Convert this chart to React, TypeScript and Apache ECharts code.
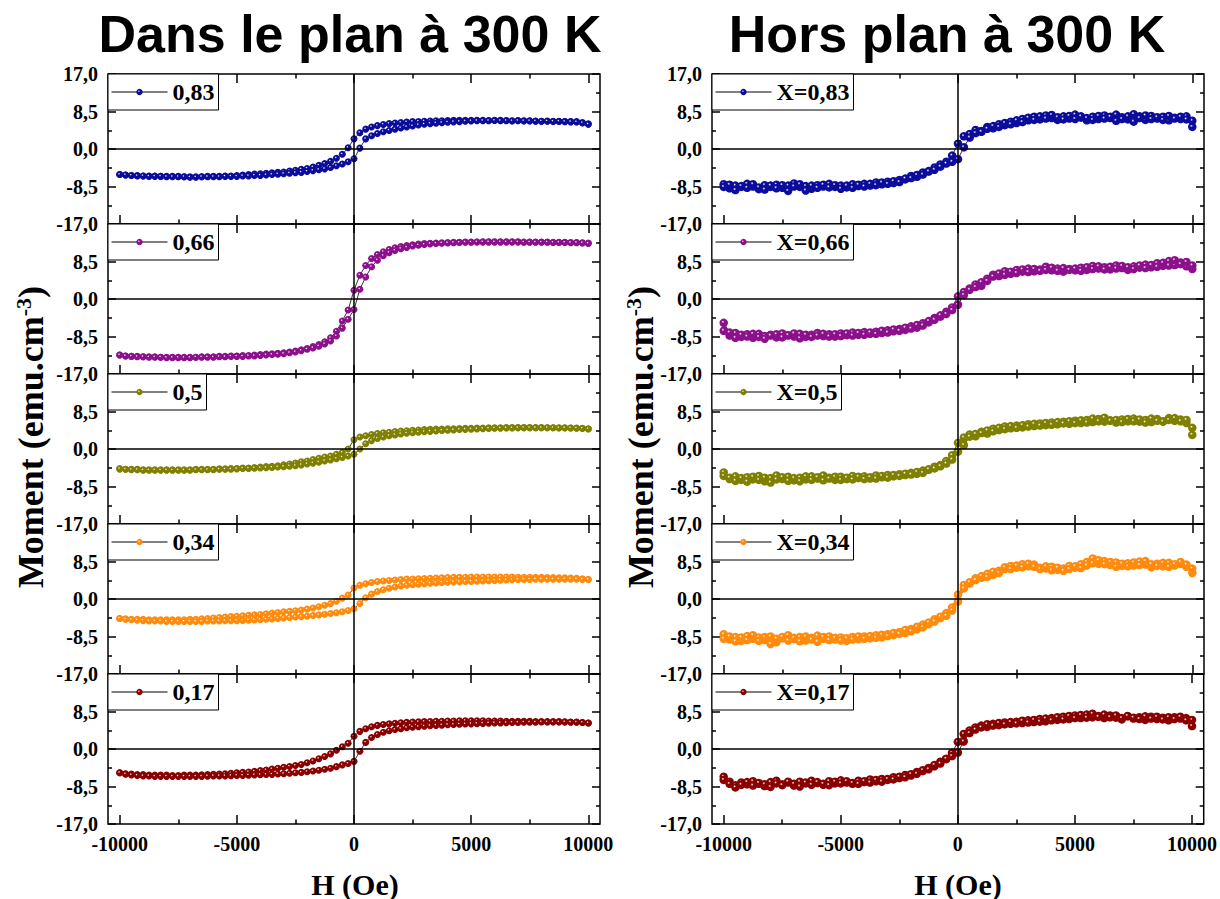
import React, { useEffect, useRef } from "react";
import * as echarts from "echarts";

// Applied field H (Oe), one value per measured point
const H_FIELD = [
  -10000, -9750, -9500, -9250, -9000, -8750, -8500, -8250, -8000, -7750,
  -7500, -7250, -7000, -6750, -6500, -6250, -6000, -5750, -5500, -5250,
  -5000, -4750, -4500, -4250, -4000, -3750, -3500, -3250, -3000, -2750,
  -2500, -2250, -2000, -1750, -1500, -1250, -1000, -750, -500, -250,
  0, 250, 500, 750, 1000, 1250, 1500, 1750, 2000, 2250,
  2500, 2750, 3000, 3250, 3500, 3750, 4000, 4250, 4500, 4750,
  5000, 5250, 5500, 5750, 6000, 6250, 6500, 6750, 7000, 7250,
  7500, 7750, 8000, 8250, 8500, 8750, 9000, 9250, 9500, 9750,
  10000,
];

const X_MAJOR_TICKS = [-10000, -5000, 0, 5000, 10000];
const X_MINOR_TICKS = [-7500, -2500, 2500, 7500];
const Y_TICK_STEP = 8.5;
const Y_MIN = -17;
const Y_MAX = 17;

const LEFT_NAMES = ["0,83", "0,66", "0,5", "0,34", "0,17"];
const RIGHT_NAMES = ["X=0,83", "X=0,66", "X=0,5", "X=0,34", "X=0,17"];
const SERIES_COLORS = ["#0c0c9c", "#8c0f8c", "#7f7f00", "#ff8a0c", "#8a0000"];

// ---------- Dans le plan (in-plane) : branch with decreasing field (DOWN) and increasing field (UP), listed in H_FIELD order
const IP_083_DOWN = [
  -5.8, -5.9, -6.0, -6.0, -6.1, -6.1, -6.1, -6.2, -6.2, -6.2,
  -6.2, -6.3, -6.3, -6.3, -6.3, -6.2, -6.2, -6.2, -6.1, -6.1,
  -6.0, -5.9, -5.8, -5.7, -5.6, -5.5, -5.4, -5.3, -5.2, -5.0,
  -4.8, -4.6, -4.4, -4.1, -3.7, -3.3, -2.8, -2.1, -1.2, 0.3,
  2.3, 3.7, 4.5, 5.0, 5.3, 5.55, 5.75, 5.9, 6.0, 6.1,
  6.2, 6.25, 6.3, 6.35, 6.4, 6.4, 6.45, 6.5, 6.5, 6.5,
  6.5, 6.5, 6.5, 6.45, 6.5, 6.5, 6.45, 6.4, 6.45, 6.4,
  6.4, 6.35, 6.3, 6.35, 6.3, 6.3, 6.25, 6.2, 6.2, 6.0,
  5.7,
];
const IP_083_UP = [
  -5.8, -5.9, -6.0, -6.1, -6.1, -6.2, -6.2, -6.2, -6.3, -6.3,
  -6.3, -6.3, -6.4, -6.4, -6.3, -6.3, -6.3, -6.3, -6.2, -6.2,
  -6.2, -6.1, -6.1, -6.0, -6.0, -5.9, -5.8, -5.7, -5.6, -5.5,
  -5.4, -5.3, -5.1, -4.9, -4.7, -4.5, -4.2, -3.8, -3.4, -2.9,
  -2.2, 0.2, 2.3, 3.0, 3.5, 3.9, 4.2, 4.5, 4.75, 5.0,
  5.2, 5.45, 5.6, 5.75, 5.85, 5.95, 6.05, 6.15, 6.2, 6.3,
  6.35, 6.4, 6.4, 6.4, 6.45, 6.4, 6.4, 6.35, 6.4, 6.35,
  6.35, 6.3, 6.3, 6.3, 6.25, 6.25, 6.2, 6.15, 6.1, 5.9,
  5.6,
];
const IP_066_DOWN = [
  -12.7, -12.9, -13.0, -13.0, -13.1, -13.1, -13.1, -13.2, -13.2, -13.2,
  -13.2, -13.2, -13.2, -13.2, -13.1, -13.1, -13.1, -13.0, -13.0, -12.9,
  -12.9, -12.8, -12.8, -12.7, -12.6, -12.5, -12.4, -12.3, -12.2, -12.0,
  -11.8, -11.5, -11.2, -10.8, -10.3, -9.7, -8.8, -7.3, -5.0, -2.5,
  2.0, 5.4, 7.6, 9.2, 10.1, 10.7, 11.2, 11.6, 11.9, 12.1,
  12.3, 12.45, 12.55, 12.65, 12.7, 12.75, 12.8, 12.85, 12.85, 12.9,
  12.9, 12.9, 12.95, 12.95, 12.95, 12.95, 12.95, 12.95, 12.95, 12.9,
  12.9, 12.9, 12.9, 12.9, 12.85, 12.85, 12.85, 12.8, 12.8, 12.75,
  12.7,
];
const IP_066_UP = [
  -12.7, -12.9, -13.0, -13.1, -13.1, -13.2, -13.2, -13.2, -13.3, -13.3,
  -13.3, -13.3, -13.3, -13.2, -13.2, -13.2, -13.2, -13.1, -13.1, -13.0,
  -13.0, -13.0, -12.9, -12.9, -12.8, -12.7, -12.6, -12.5, -12.4, -12.2,
  -12.0, -11.7, -11.4, -11.1, -10.7, -10.2, -9.5, -8.4, -6.6, -4.6,
  -2.4, 2.2, 5.0, 7.3, 8.8, 9.8, 10.5, 11.0, 11.4, 11.7,
  12.0, 12.2, 12.35, 12.5, 12.6, 12.65, 12.7, 12.75, 12.8, 12.85,
  12.85, 12.9, 12.9, 12.9, 12.9, 12.9, 12.9, 12.9, 12.9, 12.85,
  12.85, 12.85, 12.85, 12.85, 12.8, 12.8, 12.8, 12.75, 12.75, 12.7,
  12.6,
];
const IP_050_DOWN = [
  -4.5, -4.6, -4.6, -4.6, -4.7, -4.7, -4.7, -4.7, -4.7, -4.7,
  -4.7, -4.7, -4.7, -4.6, -4.6, -4.6, -4.6, -4.5, -4.5, -4.4,
  -4.4, -4.3, -4.3, -4.2, -4.1, -4.0, -3.9, -3.8, -3.6, -3.4,
  -3.2, -2.9, -2.7, -2.4, -2.1, -1.8, -1.6, -1.2, -0.8, 0.0,
  2.1, 2.7, 3.0, 3.3, 3.5, 3.7, 3.8, 3.95, 4.05, 4.15,
  4.25, 4.3, 4.4, 4.45, 4.5, 4.55, 4.6, 4.6, 4.65, 4.7,
  4.7, 4.75, 4.75, 4.8, 4.8, 4.8, 4.85, 4.85, 4.85, 4.85,
  4.85, 4.85, 4.85, 4.8, 4.8, 4.8, 4.8, 4.75, 4.75, 4.7,
  4.6,
];
const IP_050_UP = [
  -4.5, -4.6, -4.7, -4.7, -4.8, -4.8, -4.8, -4.8, -4.8, -4.8,
  -4.8, -4.8, -4.8, -4.7, -4.7, -4.7, -4.7, -4.6, -4.6, -4.6,
  -4.5, -4.4, -4.4, -4.35, -4.3, -4.25, -4.2, -4.1, -4.0, -3.9,
  -3.8, -3.6, -3.4, -3.2, -3.0, -2.7, -2.5, -2.2, -1.9, -1.6,
  -1.2, 0.0, 1.2, 1.9, 2.4, 2.7, 3.0, 3.2, 3.4, 3.55,
  3.7, 3.8, 3.9, 4.0, 4.1, 4.2, 4.25, 4.3, 4.4, 4.45,
  4.5, 4.55, 4.6, 4.65, 4.7, 4.7, 4.75, 4.75, 4.8, 4.8,
  4.8, 4.8, 4.8, 4.8, 4.8, 4.75, 4.75, 4.75, 4.7, 4.65,
  4.55,
];
const IP_034_DOWN = [
  -4.4, -4.5, -4.6, -4.6, -4.6, -4.7, -4.7, -4.7, -4.7, -4.7,
  -4.7, -4.7, -4.6, -4.6, -4.5, -4.4, -4.3, -4.2, -4.1, -4.0,
  -3.9, -3.8, -3.7, -3.6, -3.5, -3.35, -3.2, -3.05, -2.9, -2.8,
  -2.65, -2.5, -2.3, -2.05, -1.75, -1.4, -1.05, -0.5, 0.2, 0.9,
  2.5, 3.1, 3.45, 3.75, 3.95, 4.1, 4.2, 4.3, 4.4, 4.5,
  4.55, 4.6, 4.65, 4.7, 4.75, 4.8, 4.85, 4.9, 4.9, 4.95,
  5.0, 5.0, 5.0, 5.0, 5.0, 5.0, 5.0, 5.0, 4.95, 4.95,
  4.95, 4.9, 4.9, 4.85, 4.85, 4.8, 4.8, 4.75, 4.7, 4.6,
  4.4,
];
const IP_034_UP = [
  -4.4, -4.6, -4.7, -4.8, -4.9, -5.0, -5.0, -5.0, -5.1, -5.1,
  -5.1, -5.1, -5.1, -5.1, -5.1, -5.0, -5.0, -5.0, -4.95, -4.9,
  -4.9, -4.85, -4.8, -4.75, -4.7, -4.6, -4.5, -4.4, -4.3, -4.2,
  -4.1, -4.0, -3.9, -3.75, -3.6, -3.45, -3.3, -3.1, -2.9, -2.6,
  -2.2, -1.0, 0.3, 1.1, 1.7, 2.1, 2.45, 2.7, 2.95, 3.1,
  3.25, 3.35, 3.45, 3.55, 3.65, 3.75, 3.8, 3.85, 3.9, 3.95,
  4.0, 4.05, 4.1, 4.15, 4.2, 4.25, 4.3, 4.35, 4.4, 4.4,
  4.45, 4.5, 4.5, 4.5, 4.5, 4.5, 4.5, 4.5, 4.5, 4.45,
  4.4,
];
const IP_017_DOWN = [
  -5.4, -5.6, -5.7, -5.8, -5.8, -5.9, -5.9, -5.9, -5.9, -6.0,
  -6.0, -5.9, -5.9, -5.9, -5.85, -5.8, -5.75, -5.7, -5.6, -5.5,
  -5.4, -5.3, -5.2, -5.05, -4.9, -4.75, -4.55, -4.35, -4.15, -3.95,
  -3.75, -3.5, -3.1, -2.7, -2.2, -1.7, -1.1, -0.3, 0.5, 1.3,
  2.9, 4.0, 4.6, 5.05, 5.35, 5.55, 5.7, 5.85, 5.95, 6.05,
  6.1, 6.15, 6.2, 6.25, 6.3, 6.3, 6.35, 6.35, 6.4, 6.4,
  6.4, 6.4, 6.4, 6.35, 6.35, 6.35, 6.3, 6.3, 6.3, 6.3,
  6.3, 6.25, 6.25, 6.2, 6.2, 6.2, 6.15, 6.1, 6.1, 6.0,
  5.9,
];
const IP_017_UP = [
  -5.4, -5.7, -5.9, -6.0, -6.1, -6.1, -6.2, -6.2, -6.2, -6.2,
  -6.2, -6.2, -6.2, -6.2, -6.2, -6.15, -6.1, -6.1, -6.1, -6.05,
  -6.0, -6.0, -5.95, -5.9, -5.85, -5.8, -5.75, -5.65, -5.6, -5.5,
  -5.4, -5.3, -5.15, -5.0, -4.8, -4.6, -4.35, -4.0, -3.6, -3.3,
  -2.8, -0.5, 1.5, 2.6, 3.3, 3.8, 4.15, 4.4, 4.6, 4.8,
  4.95, 5.05, 5.15, 5.25, 5.35, 5.4, 5.5, 5.55, 5.6, 5.65,
  5.7, 5.75, 5.8, 5.85, 5.9, 5.9, 5.95, 6.0, 6.0, 6.05,
  6.05, 6.05, 6.1, 6.1, 6.1, 6.1, 6.1, 6.05, 6.05, 6.0,
  5.9,
];

// ---------- Hors plan (out-of-plane)
const OP_083_DOWN = [
  -8.0, -8.9, -8.3, -8.6, -7.9, -8.5, -9.1, -8.2, -8.6, -8.1,
  -8.8, -8.3, -7.8, -8.6, -8.4, -9.0, -8.2, -8.5, -7.9, -8.6,
  -8.3, -8.7, -8.0, -8.4, -7.9, -8.3, -7.6, -8.0, -7.4, -7.7,
  -7.0, -6.9, -6.1, -6.3, -5.3, -5.0, -4.2, -3.5, -2.9, -1.5,
  1.2, 2.9, 3.4, 4.3, 4.1, 5.0, 4.7, 5.6, 5.4, 6.2,
  5.9, 6.8, 6.5, 7.3, 6.7, 7.6, 7.0, 6.6, 7.4, 6.9,
  7.8, 7.1, 6.5, 7.3, 6.8, 7.6, 7.0, 6.4, 7.2, 6.7,
  7.9, 7.4, 6.6, 7.5, 6.9, 7.3, 6.5, 7.1, 6.8, 7.4,
  6.4,
];
const OP_083_UP = [
  -8.6, -8.1, -9.3, -8.4, -8.8, -8.0, -8.7, -9.2, -8.3, -8.9,
  -8.2, -9.5, -8.5, -8.0, -9.4, -8.3, -8.8, -8.1, -8.7, -8.2,
  -9.0, -8.3, -8.8, -8.1, -8.5, -7.9, -8.2, -7.6, -7.9, -7.3,
  -7.5, -6.7, -6.6, -5.9, -5.8, -5.1, -4.7, -4.0, -3.3, -2.9,
  -2.3, 0.4, 2.6, 3.6, 3.9, 4.6, 5.2, 5.0, 5.9, 5.6,
  6.5, 6.1, 7.1, 6.6, 7.4, 6.9, 7.7, 7.2, 6.7, 7.5,
  6.8, 7.4, 7.0, 6.6, 7.5, 6.9, 7.3, 7.8, 6.8, 7.4,
  6.2, 7.0, 7.6, 6.8, 7.2, 6.6, 7.5, 6.9, 7.3, 6.7,
  5.0,
];
const OP_066_DOWN = [
  -7.2, -8.3, -7.7, -8.6, -8.0, -8.8, -7.9, -8.4, -8.1, -8.7,
  -7.8, -8.3, -8.5, -7.9, -8.6, -8.1, -7.7, -8.4, -8.0, -8.5,
  -7.8, -8.2, -7.6, -8.1, -7.5, -7.9, -7.4, -7.7, -7.1, -7.3,
  -6.8, -7.0, -6.2, -6.5, -5.5, -5.3, -4.3, -4.0, -2.9, -1.9,
  0.6, 1.6, 2.4, 3.3, 3.0, 4.6, 5.5, 5.2, 6.3, 5.7,
  6.6, 6.2, 6.9, 6.3, 6.7, 7.3, 6.5, 6.9, 6.2, 6.8,
  6.5, 7.1, 6.6, 7.5, 6.9, 7.2, 6.7, 7.6, 7.0, 6.6,
  7.4, 7.1, 7.8, 7.2, 8.1, 7.5, 8.6, 7.7, 8.3, 7.4,
  6.8,
];
const OP_066_UP = [
  -5.4, -7.6, -8.8, -8.1, -8.5, -7.9, -8.6, -9.0, -8.3, -8.0,
  -8.7, -8.2, -7.8, -8.9, -8.1, -8.6, -8.3, -7.9, -8.5, -8.0,
  -8.4, -7.8, -8.3, -7.7, -8.1, -7.6, -7.9, -7.2, -7.6, -6.9,
  -7.2, -6.5, -6.7, -5.9, -6.0, -5.0, -4.7, -3.7, -3.4, -2.5,
  -1.3, 0.9, 2.1, 2.7, 3.8, 4.1, 5.1, 5.8, 5.5, 6.2,
  5.9, 6.7, 6.1, 6.8, 6.4, 6.6, 7.1, 6.4, 7.0, 6.6,
  6.9, 6.4, 7.2, 6.8, 7.4, 6.7, 7.3, 6.9, 7.5, 7.2,
  6.8, 7.6, 7.0, 7.7, 7.3, 8.2, 7.6, 8.8, 7.9, 8.4,
  7.6,
];
const OP_050_DOWN = [
  -5.3, -6.8, -6.2, -7.0, -6.4, -6.9, -6.1, -7.3, -6.6, -6.0,
  -6.8, -6.3, -7.1, -6.5, -6.9, -6.2, -6.7, -6.0, -6.5, -7.0,
  -6.3, -6.8, -6.1, -6.6, -6.2, -6.7, -6.0, -6.4, -5.9, -6.2,
  -5.7, -5.9, -5.4, -5.6, -4.9, -4.7, -4.0, -3.6, -2.7, -1.4,
  1.4, 2.6, 3.3, 2.9, 3.9, 3.5, 4.6, 4.3, 5.1, 4.7,
  5.3, 4.9, 5.6, 5.2, 5.8, 5.4, 6.0, 5.6, 6.2, 5.7,
  6.4, 5.9, 6.6, 6.1, 6.8, 6.2, 6.5, 6.0, 6.7, 6.3,
  6.9, 6.2, 6.6, 6.1, 6.8, 6.3, 7.0, 6.4, 6.7, 5.9,
  4.8,
];
const OP_050_UP = [
  -6.1, -6.5, -7.2, -6.6, -7.4, -6.3, -7.0, -6.5, -7.6, -6.9,
  -6.4, -7.2, -6.6, -7.3, -6.2, -7.0, -6.4, -7.1, -6.7, -6.3,
  -7.0, -6.5, -6.9, -6.3, -6.8, -6.4, -6.7, -6.1, -6.5, -5.9,
  -6.1, -5.6, -5.8, -5.2, -5.4, -4.6, -4.4, -3.9, -3.3, -2.4,
  -0.6, 0.9, 2.8, 3.4, 3.6, 4.2, 4.0, 4.8, 4.5, 5.2,
  4.8, 5.4, 5.1, 5.7, 5.3, 5.9, 5.5, 6.1, 5.8, 6.3,
  5.9, 6.5, 6.0, 6.9, 6.3, 7.1, 6.4, 6.6, 6.1, 6.8,
  6.3, 6.7, 6.0, 6.9, 6.4, 6.2, 6.6, 7.0, 6.3, 6.6,
  3.2,
];
const OP_034_DOWN = [
  -8.0, -9.2, -8.6, -9.5, -8.4, -9.0, -8.7, -9.3, -8.5, -9.8,
  -8.9, -8.2, -9.1, -8.6, -9.4, -8.8, -8.3, -9.0, -8.5, -9.2,
  -8.7, -9.5, -8.6, -9.1, -8.5, -8.9, -8.2, -8.7, -8.0, -8.2,
  -7.5, -7.7, -6.8, -6.9, -5.8, -5.7, -4.6, -4.3, -3.2, -1.9,
  1.0, 3.2, 3.5, 4.7, 4.8, 5.7, 5.5, 6.4, 6.8, 7.5,
  7.1, 7.9, 7.4, 7.8, 7.1, 6.9, 7.3, 6.6, 6.9, 7.5,
  7.1, 7.9, 8.4, 9.2, 8.0, 8.6, 7.7, 8.3, 7.5, 8.1,
  7.6, 8.5, 7.8, 7.2, 8.0, 7.4, 8.2, 7.6, 8.0, 7.3,
  5.9,
];
const OP_034_UP = [
  -9.0, -8.5, -9.6, -8.7, -9.3, -8.2, -9.5, -8.6, -10.2, -9.0,
  -8.6, -9.4, -8.8, -9.6, -8.5, -9.2, -9.7, -8.6, -9.3, -8.8,
  -9.4, -8.9, -9.2, -8.5, -9.0, -8.4, -8.8, -8.1, -8.4, -7.7,
  -7.9, -7.0, -7.3, -6.3, -6.4, -5.3, -5.1, -4.0, -3.8, -2.6,
  -0.6, 2.4, 3.8, 4.3, 5.2, 5.0, 6.2, 5.9, 7.2, 6.8,
  7.6, 7.2, 8.0, 7.3, 6.8, 7.4, 6.5, 7.1, 6.4, 6.8,
  7.4, 7.0, 7.6, 8.1, 8.8, 7.9, 8.4, 7.3, 8.0, 7.4,
  8.3, 7.7, 8.6, 7.9, 7.5, 8.2, 7.3, 7.9, 8.4, 7.8,
  6.9,
];
const OP_017_DOWN = [
  -6.3, -7.4, -8.2, -7.6, -8.0, -7.3, -7.9, -8.4, -7.5, -7.2,
  -8.0, -7.6, -8.3, -7.4, -7.8, -7.2, -7.7, -8.1, -7.3, -7.8,
  -7.1, -7.6, -7.9, -7.2, -7.5, -6.9, -7.3, -6.8, -7.0, -6.4,
  -6.6, -5.9, -6.0, -5.2, -5.0, -4.3, -3.9, -2.9, -2.3, -0.9,
  1.6, 3.4, 4.2, 4.9, 5.3, 5.0, 5.7, 5.4, 6.0, 5.7,
  6.2, 5.9, 6.5, 6.1, 6.8, 6.3, 7.0, 6.6, 7.3, 6.8,
  7.6, 7.0, 7.8, 7.2, 7.5, 7.0, 7.6, 7.1, 6.7, 7.4,
  6.9, 7.2, 6.6, 7.3, 6.8, 7.1, 6.5, 7.2, 6.9, 7.0,
  6.6,
];
const OP_017_UP = [
  -7.0, -7.9, -8.7, -8.1, -7.5, -8.3, -7.7, -8.0, -8.6, -7.8,
  -8.2, -7.4, -7.9, -8.5, -7.6, -8.1, -7.5, -7.9, -8.2, -7.4,
  -7.8, -7.3, -7.7, -7.9, -7.3, -7.6, -7.0, -7.4, -6.8, -6.9,
  -6.3, -6.4, -5.7, -5.6, -4.8, -4.6, -3.6, -3.3, -2.2, -1.6,
  -0.8, 1.7, 3.6, 4.4, 4.9, 5.6, 5.3, 5.9, 5.6, 6.1,
  5.8, 6.4, 6.0, 6.6, 6.2, 6.9, 6.5, 7.2, 6.7, 7.5,
  7.0, 7.7, 7.1, 8.0, 7.3, 7.8, 7.2, 7.6, 7.0, 7.5,
  7.1, 6.8, 7.4, 6.9, 7.3, 6.7, 7.2, 6.8, 7.3, 6.5,
  5.2,
];

const IN_PLANE = [
  [IP_083_DOWN, IP_083_UP],
  [IP_066_DOWN, IP_066_UP],
  [IP_050_DOWN, IP_050_UP],
  [IP_034_DOWN, IP_034_UP],
  [IP_017_DOWN, IP_017_UP],
];
const OUT_PLANE = [
  [OP_083_DOWN, OP_083_UP],
  [OP_066_DOWN, OP_066_UP],
  [OP_050_DOWN, OP_050_UP],
  [OP_034_DOWN, OP_034_UP],
  [OP_017_DOWN, OP_017_UP],
];

function buildLoop(down: number[], up: number[]) {
  const pts: number[][] = [];
  for (let i = H_FIELD.length - 1; i >= 0; i--) pts.push([H_FIELD[i], down[i]]);
  for (let i = 0; i < H_FIELD.length; i++) pts.push([H_FIELD[i], up[i]]);
  return pts;
}

const SERIF = "'Liberation Serif', 'Times New Roman', serif";
const SANS = "'Liberation Sans', Arial, sans-serif";

function sphere(c: string) {
  return new echarts.graphic.RadialGradient(0.4, 0.38, 0.62, [
    { offset: 0, color: "#ffffff" },
    { offset: 0.28, color: c },
    { offset: 1, color: c },
  ]);
}

function fmtY(v: number) {
  return v.toFixed(1).replace(".", ",");
}

function buildOption() {
  const grids: any[] = [];
  const xAxes: any[] = [];
  const yAxes: any[] = [];
  const series: any[] = [];
  const legends: any[] = [];
  const tickLine = { color: "#000", width: 1.5 };

  const xAxis = (g: number, position: string, ticks: number[], len: number, labels: boolean) => ({
    type: "value",
    gridIndex: g,
    position,
    min: -10500,
    max: 10500,
    axisLine: { show: false, onZero: false },
    splitLine: { show: false },
    axisTick: { show: true, inside: true, length: len, customValues: ticks, lineStyle: tickLine },
    axisLabel: labels
      ? {
          show: true,
          customValues: X_MAJOR_TICKS,
          margin: 10,
          color: "#000",
          fontFamily: SERIF,
          fontWeight: "bold",
          fontSize: 20,
          formatter: (v: number) => String(v),
        }
      : { show: false },
  });

  const yAxis = (g: number, position: string, labels: boolean, row: number) => ({
    type: "value",
    gridIndex: g,
    position,
    min: Y_MIN,
    max: Y_MAX,
    interval: Y_TICK_STEP,
    axisLine: { show: false, onZero: false },
    splitLine: { show: false },
    axisTick: { show: true, inside: true, length: 8, lineStyle: tickLine },
    minorTick: { show: true, splitNumber: 2, length: 4, lineStyle: tickLine },
    axisLabel: labels
      ? {
          show: true,
          margin: 10,
          color: "#000",
          fontFamily: SERIF,
          fontWeight: "bold",
          fontSize: 20,
          formatter: (v: number) => (row > 0 && v === Y_MAX ? "" : fmtY(v)),
        }
      : { show: false },
  });

  for (let c = 0; c < 2; c++) {
    for (let r = 0; r < 5; r++) {
      const g = c * 5 + r;
      const left = c === 0 ? 108 : 712;
      const top = 74 + 150 * r;
      grids.push({
        left,
        top,
        width: 492,
        height: 150,
        show: true,
        borderColor: "#000",
        borderWidth: 1.5,
        backgroundColor: "rgba(0,0,0,0)",
      });
      xAxes.push(xAxis(g, "bottom", X_MAJOR_TICKS, 9, r === 4));
      xAxes.push(xAxis(g, "bottom", X_MINOR_TICKS, 4.5, false));
      xAxes.push(xAxis(g, "top", X_MAJOR_TICKS, 9, false));
      xAxes.push(xAxis(g, "top", X_MINOR_TICKS, 4.5, false));
      yAxes.push(yAxis(g, "left", true, r));
      yAxes.push(yAxis(g, "right", false, r));

      const name = c === 0 ? LEFT_NAMES[r] : RIGHT_NAMES[r];
      const pair = c === 0 ? IN_PLANE[r] : OUT_PLANE[r];
      const color = SERIES_COLORS[r];
      series.push({
        type: "line",
        name,
        xAxisIndex: g * 4,
        yAxisIndex: g * 2,
        data: buildLoop(pair[0], pair[1]),
        symbol: "circle",
        symbolSize: c === 0 ? 7 : 8.5,
        showSymbol: true,
        itemStyle: { color: sphere(color) },
        lineStyle: { color: "#000", width: 0.8 },
        emphasis: { disabled: true },
        markLine: {
          silent: true,
          symbol: ["none", "none"],
          label: { show: false },
          lineStyle: { color: "#000", width: 1.5, type: "solid" },
          data: [{ yAxis: 0 }, { xAxis: 0 }],
        },
      });
      legends.push({
        data: [name],
        left,
        top,
        orient: "horizontal",
        itemWidth: 56,
        itemHeight: 8,
        itemGap: 0,
        padding: [6, 4, 6, 3],
        borderColor: "#000",
        borderWidth: 1,
        backgroundColor: "#fff",
        selectedMode: false,
        lineStyle: { width: 1 },
        textStyle: { color: "#000", fontFamily: SERIF, fontWeight: "bold", fontSize: 24 },
      });
    }
  }

  const graphic: any[] = [
    {
      type: "text",
      x: 350,
      y: 34,
      style: { text: "Dans le plan à 300 K", font: `bold 52px ${SANS}`, fill: "#000", align: "center", verticalAlign: "middle" },
    },
    {
      type: "text",
      x: 947,
      y: 34,
      style: { text: "Hors plan à 300 K", font: `bold 52px ${SANS}`, fill: "#000", align: "center", verticalAlign: "middle" },
    },
    {
      type: "text",
      x: 355,
      y: 884,
      style: { text: "H (Oe)", font: `bold 30px ${SERIF}`, lineHeight: 26, fill: "#000", align: "center", verticalAlign: "middle" },
    },
    {
      type: "text",
      x: 958,
      y: 884,
      style: { text: "H (Oe)", font: `bold 30px ${SERIF}`, lineHeight: 26, fill: "#000", align: "center", verticalAlign: "middle" },
    },
  ];
  [31, 641].forEach((x) => {
    graphic.push({
      type: "text",
      x,
      y: 437,
      rotation: Math.PI / 2,
      style: {
        text: "{a|Moment (emu.cm}{b|-3}{a|)}",
        align: "center",
        verticalAlign: "middle",
        fill: "#000",
        rich: {
          a: { fontFamily: SERIF, fontWeight: "bold", fontSize: 36, lineHeight: 38, fill: "#000" },
          b: { fontFamily: SERIF, fontWeight: "bold", fontSize: 22, lineHeight: 38, verticalAlign: "top", fill: "#000" },
        },
      },
    });
  });

  return {
    animation: false,
    backgroundColor: "#fff",
    grid: grids,
    xAxis: xAxes,
    yAxis: yAxes,
    legend: legends,
    series,
    graphic,
  };
}

export default function App() {
  const ref = useRef<HTMLDivElement>(null);
  useEffect(() => {
    if (!ref.current) return;
    const chart = echarts.init(ref.current, undefined, { renderer: "svg" });
    chart.setOption(buildOption() as any);
    return () => chart.dispose();
  }, []);
  return (
    <div
      ref={ref}
      style={{ position: "fixed", left: 0, top: 0, width: 1220, height: 899, background: "#fff" }}
    />
  );
}
